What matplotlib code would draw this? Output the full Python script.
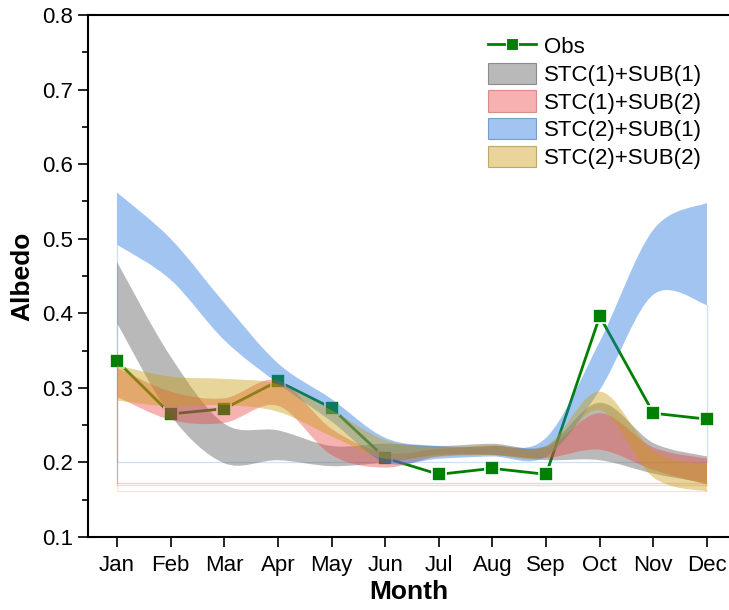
import numpy as np
import matplotlib
matplotlib.use("Agg")
import matplotlib.pyplot as plt
from matplotlib.path import Path
from matplotlib.patches import PathPatch, Patch
from matplotlib.lines import Line2D

plt.rcParams['font.family'] = ['Liberation Sans', 'DejaVu Sans']

months = ['Jan', 'Feb', 'Mar', 'Apr', 'May', 'Jun',
          'Jul', 'Aug', 'Sep', 'Oct', 'Nov', 'Dec']

obs = [0.336, 0.265, 0.272, 0.309, 0.273, 0.206,
       0.184, 0.192, 0.184, 0.396, 0.266, 0.258]

# band ranges (lower / upper) per month
s1s1_lo = [0.387, 0.263, 0.199, 0.203, 0.195, 0.200, 0.210, 0.210, 0.203, 0.203, 0.185, 0.172]
s1s1_hi = [0.469, 0.342, 0.252, 0.243, 0.222, 0.225, 0.222, 0.225, 0.222, 0.280, 0.226, 0.208]

s1s2_lo = [0.288, 0.257, 0.253, 0.276, 0.210, 0.193, 0.208, 0.210, 0.206, 0.217, 0.190, 0.170]
s1s2_hi = [0.327, 0.295, 0.286, 0.310, 0.245, 0.213, 0.218, 0.222, 0.220, 0.266, 0.220, 0.205]

s2s1_lo = [0.492, 0.445, 0.364, 0.306, 0.255, 0.200, 0.205, 0.208, 0.208, 0.297, 0.425, 0.411]
s2s1_hi = [0.562, 0.500, 0.414, 0.333, 0.285, 0.233, 0.222, 0.222, 0.233, 0.362, 0.512, 0.548]

s2s2_lo = [0.283, 0.275, 0.277, 0.268, 0.235, 0.205, 0.208, 0.210, 0.208, 0.270, 0.180, 0.161]
s2s2_hi = [0.330, 0.315, 0.312, 0.305, 0.270, 0.230, 0.220, 0.223, 0.222, 0.295, 0.215, 0.198]

bands = [
    ('STC(1)+SUB(1)', s1s1_lo, s1s1_hi, (0.35, 0.35, 0.35), '#8c8c8c'),
    ('STC(1)+SUB(2)', s1s2_lo, s1s2_hi, (0.92, 0.27, 0.27), '#d88c8c'),
    ('STC(2)+SUB(1)', s2s1_lo, s2s1_hi, (0.12, 0.45, 0.87), '#7c9cc8'),
    ('STC(2)+SUB(2)', s2s2_lo, s2s2_hi, (0.79, 0.61, 0.05), '#c0a868'),
]
ALPHA = 0.42


def spline_segments(x, y):
    # catmull-rom -> cubic bezier control points (smooth connection like Origin's spline)
    x = np.asarray(x, float)
    y = np.asarray(y, float)
    n = len(x)
    segs = []
    for i in range(n - 1):
        i0 = max(i - 1, 0)
        i3 = min(i + 2, n - 1)
        c1 = (x[i] + (x[i + 1] - x[i0]) / 6, y[i] + (y[i + 1] - y[i0]) / 6)
        c2 = (x[i + 1] - (x[i3] - x[i]) / 6, y[i + 1] - (y[i3] - y[i]) / 6)
        segs.append((c1, c2, (x[i + 1], y[i + 1])))
    return segs


def band_path(x, lo, hi):
    verts = [(x[0], hi[0])]
    codes = [Path.MOVETO]
    for c1, c2, p in spline_segments(x, hi):
        verts += [c1, c2, p]
        codes += [Path.CURVE4] * 3
    xr = x[::-1]
    lr = lo[::-1]
    verts.append((xr[0], lr[0]))
    codes.append(Path.LINETO)
    for c1, c2, p in spline_segments(xr, lr):
        verts += [c1, c2, p]
        codes += [Path.CURVE4] * 3
    verts.append((x[0], hi[0]))
    codes.append(Path.CLOSEPOLY)
    return Path(verts, codes)


fig = plt.figure(figsize=(7.29, 6.10), dpi=100)
ax = fig.add_axes([0.1207, 0.1197, 0.8793, 0.8557])

x = np.arange(1, 13)

ax.plot(x, obs, color='#008000', lw=2.0, marker='s', ms=10,
        mec='white', mew=1.2, zorder=1)

for name, lo, hi, col, edge in bands:
    base = min(lo)
    # faint fill edges down to the band minimum
    ax.plot([x[0], x[0], x[-1], x[-1]], [lo[0], base, base, lo[-1]],
            color=col, lw=0.9, alpha=0.22, zorder=1.5)
    ax.add_patch(PathPatch(band_path(x, lo, hi), facecolor=col,
                           alpha=ALPHA, edgecolor='none', zorder=2))

ax.set_xlim(0.46, 12.41)
ax.set_ylim(0.1, 0.8)
ax.set_xticks(x)
ax.set_xticklabels(months)
ax.set_yticks(np.arange(0.1, 0.81, 0.1))
ax.set_yticks(np.arange(0.15, 0.8, 0.1), minor=True)
ax.yaxis.set_major_formatter(matplotlib.ticker.FormatStrFormatter('%.1f'))

for s in ['left', 'bottom', 'top']:
    ax.spines[s].set_linewidth(1.5)
ax.spines['right'].set_visible(False)
ax.tick_params(axis='both', which='major', direction='out', length=7,
               width=1.2, labelsize=16, pad=4)
ax.tick_params(axis='x', which='major', pad=6)
ax.tick_params(axis='y', which='minor', direction='out', length=4.5, width=1.2)
ax.tick_params(axis='x', which='both', top=False)

ax.set_xlabel('Month', fontsize=19, fontweight='bold', labelpad=3)
ax.set_ylabel('Albedo', fontsize=19, fontweight='bold', labelpad=5)

handles = [Line2D([], [], color='#008000', lw=2.0, marker='s', ms=9,
                  mec='white', mew=0.8)]
labels = ['Obs']
for name, lo, hi, col, edge in bands:
    fc = tuple(ALPHA * c + (1 - ALPHA) for c in col)
    handles.append(Patch(facecolor=fc, edgecolor=edge, lw=0.8))
    labels.append(name)

ax.legend(handles, labels, loc='upper left', bbox_to_anchor=(472 / 729, 0.968),
          bbox_transform=fig.transFigure, frameon=False, fontsize=16,
          handlelength=2.16, handleheight=1.1, handletextpad=0.36,
          labelspacing=0.2, borderpad=0.2)

fig.savefig('out.png', dpi=100)
